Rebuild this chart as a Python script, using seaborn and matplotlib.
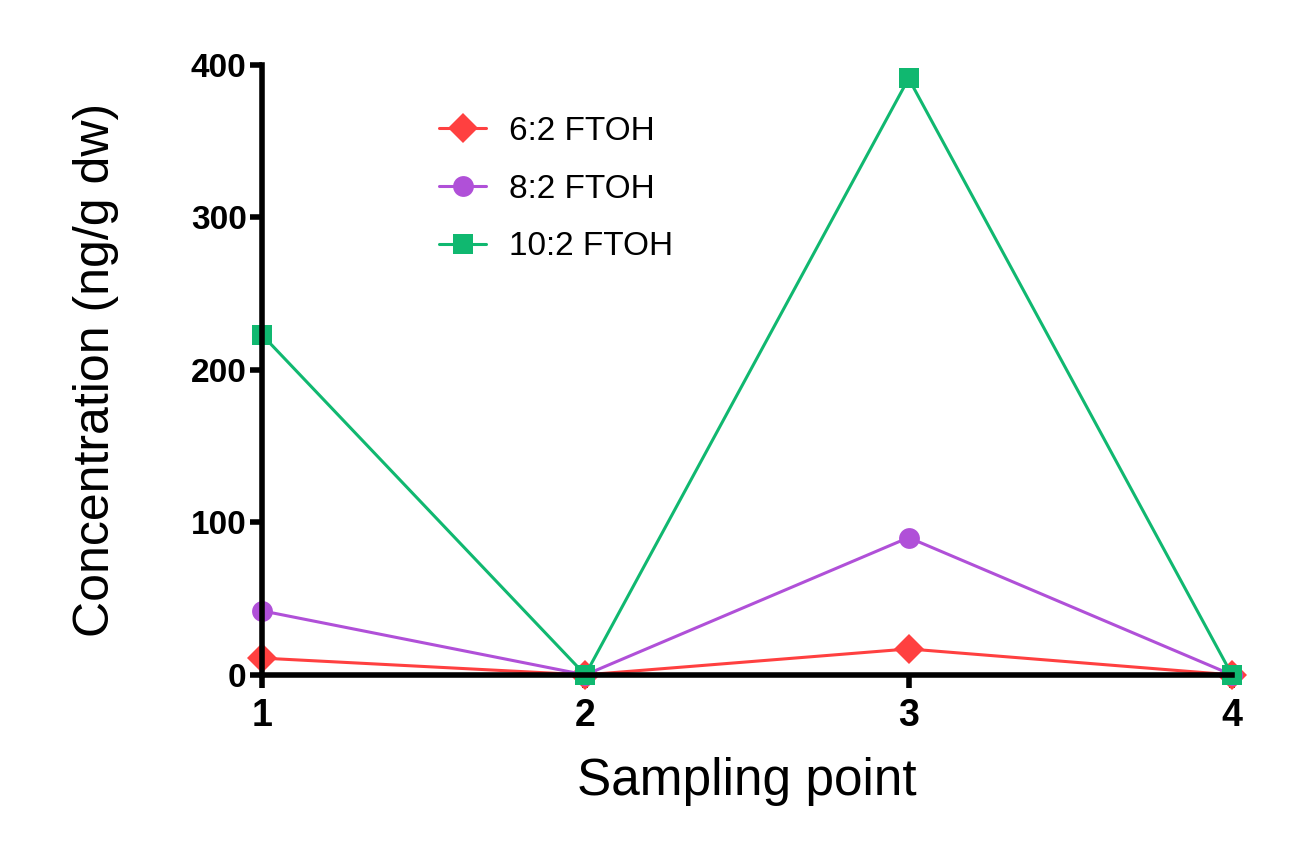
import matplotlib
matplotlib.use("Agg")
import matplotlib.pyplot as plt
import seaborn as sns
import pandas as pd

# data
points = [1, 2, 3, 4]
ftoh_62 = [11, 0, 17, 0]
ftoh_82 = [42, 0, 90, 0]
ftoh_102 = [223, 0, 391, 0]
series_names = ["6:2 FTOH", "8:2 FTOH", "10:2 FTOH"]
colors = ["#FF4040", "#B050D8", "#10B870"]
markers = ["D", "o", "s"]

df = pd.DataFrame({
    "Sampling point": points * 3,
    "Concentration": ftoh_62 + ftoh_82 + ftoh_102,
    "Compound": [s for s in series_names for _ in points],
})

sns.set_style("ticks")
plt.rcParams['font.family'] = ['Liberation Sans', 'DejaVu Sans']
plt.rcParams['text.color'] = 'black'
plt.rcParams['axes.labelcolor'] = 'black'
plt.rcParams['xtick.color'] = 'black'
plt.rcParams['ytick.color'] = 'black'
plt.rcParams['axes.edgecolor'] = 'black'

fig = plt.figure(figsize=(13.03, 8.63), dpi=100)
ax = fig.add_axes([0.201, 0.218, 0.7445, 0.707])

sns.lineplot(data=df, x="Sampling point", y="Concentration", hue="Compound",
             style="Compound", hue_order=series_names, style_order=series_names,
             palette=colors, markers=markers, dashes=False, markersize=15,
             linewidth=2.2, markeredgewidth=0, ax=ax, clip_on=False)

ax.set_xlim(1, 4)
ax.set_ylim(0, 400)
ax.set_xticks(points)
ax.set_yticks([0, 100, 200, 300, 400])
sns.despine(ax=ax)
for sp in ["left", "bottom"]:
    ax.spines[sp].set_linewidth(4)
ax.tick_params(axis="both", width=4, length=9, direction="out")
ax.tick_params(axis="x", labelsize=27, pad=8)
ax.tick_params(axis="y", labelsize=24, pad=2)
for lbl in ax.get_xticklabels() + ax.get_yticklabels():
    lbl.set_fontweight("bold")

ax.set_xlabel("Sampling point", fontsize=37, labelpad=16)
ax.set_ylabel("Concentration (ng/g dw)", fontsize=36, labelpad=52)

leg = ax.legend(loc="upper left", bbox_to_anchor=(0.152, 0.965), frameon=False,
                fontsize=24, handlelength=1.4, labelspacing=0.8, markerscale=1.0,
                handletextpad=0.7)
leg.set_title(None)

fig.savefig("out.png", dpi=100)
